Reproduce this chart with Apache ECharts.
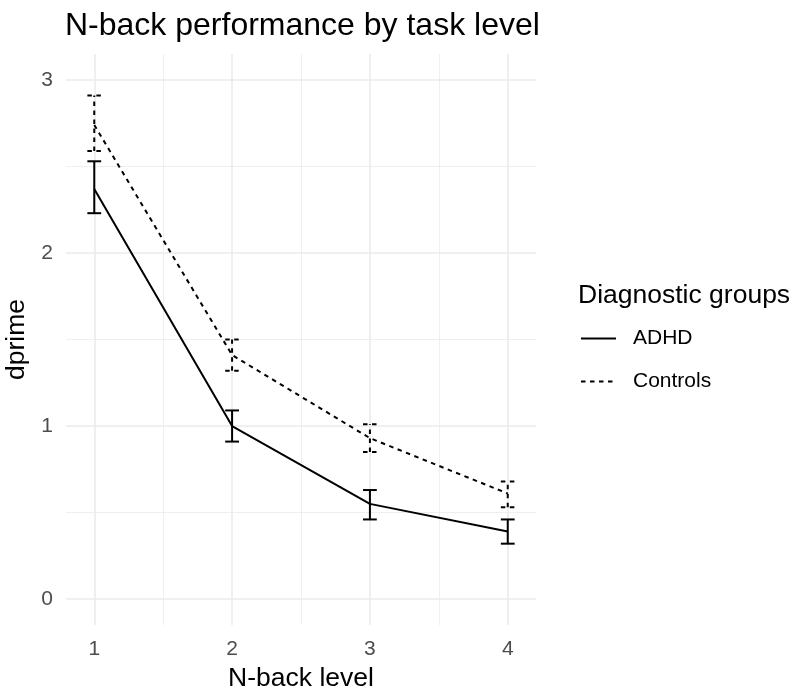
<!DOCTYPE html>
<html>
<head>
<meta charset="utf-8">
<script src="https://cdn.jsdelivr.net/npm/echarts@6/dist/echarts.min.js"></script>
<style>
  html, body { margin: 0; padding: 0; background: #fff; }
  #chart { width: 797px; height: 692px; }
</style>
</head>
<body>
<div id="chart"></div>
<script>
// N-back level on x, dprime on y
const levels = [1, 2, 3, 4]
const xMinorTicks = [1.5, 2.5, 3.5]
const yTicks = [0, 1, 2, 3]
const yMinorTicks = [0.5, 1.5, 2.5]

const adhdMean = [2.37, 1.00, 0.55, 0.39]
const adhdLow = [2.23, 0.91, 0.46, 0.32]
const adhdHigh = [2.53, 1.09, 0.63, 0.46]

const ctrlMean = [2.74, 1.41, 0.93, 0.61]
const ctrlLow = [2.59, 1.32, 0.85, 0.53]
const ctrlHigh = [2.91, 1.50, 1.01, 0.68]

const FONT = 'Liberation Sans, Arial, Helvetica, sans-serif'
const DASH = [4.5, 4.5]
const gridMajor = { color: '#EBEBEB', width: 1.6 }
const gridMinor = { color: '#EBEBEB', width: 0.8 }

const myChart = echarts.init(document.getElementById('chart'))

function pairs (xs, ys) {
  return xs.map((x, i) => [x, ys[i]])
}

function errorBars (dash) {
  return function (params, api) {
    const x = api.value(0)
    const lo = api.coord([x, api.value(1)])
    const hi = api.coord([x, api.value(2)])
    const half = api.size([0.1, 0])[0] / 2
    const style = { stroke: '#000', lineWidth: 2, lineDash: dash, fill: null }
    return {
      type: 'group',
      children: [
        { type: 'line', shape: { x1: lo[0], y1: lo[1], x2: hi[0], y2: hi[1] }, style },
        { type: 'line', shape: { x1: lo[0] - half, y1: lo[1], x2: lo[0] + half, y2: lo[1] }, style },
        { type: 'line', shape: { x1: hi[0] - half, y1: hi[1], x2: hi[0] + half, y2: hi[1] }, style }
      ]
    }
  }
}

const options = {
  animation: false,
  backgroundColor: '#fff',
  textStyle: { fontFamily: FONT },
  title: [
    {
      text: 'N-back performance by task level',
      left: 65,
      top: 10,
      padding: 0,
      textStyle: { fontFamily: FONT, fontSize: 32, fontWeight: 'normal', color: '#000' }
    },
    {
      text: 'Diagnostic groups',
      left: 578,
      top: 282,
      padding: 0,
      textStyle: { fontFamily: FONT, fontSize: 26.5, fontWeight: 'normal', color: '#000' }
    }
  ],
  legend: {
    orient: 'vertical',
    left: 580,
    top: 328,
    padding: 0,
    itemWidth: 35,
    itemHeight: 14,
    itemGap: 22,
    data: ['ADHD', 'Controls'],
    itemStyle: { opacity: 0 },
    textStyle: { fontFamily: FONT, fontSize: 21, color: '#000', padding: [0, 0, 0, 12] }
  },
  grid: {
    left: 66,
    right: 261,
    top: 54,
    bottom: 67,
    outerBoundsMode: 'none',
    containLabel: false
  },
  xAxis: [
    {
      type: 'value',
      min: 0.795,
      max: 4.205,
      name: 'N-back level',
      nameLocation: 'middle',
      nameGap: 35,
      nameTextStyle: { fontFamily: FONT, fontSize: 26.5, color: '#000' },
      axisLine: { show: false },
      axisTick: { show: false, customValues: levels },
      axisLabel: { customValues: levels, margin: 14, fontFamily: FONT, fontSize: 21, color: '#4D4D4D' },
      splitLine: { show: true, lineStyle: gridMajor }
    },
    {
      type: 'value',
      min: 0.795,
      max: 4.205,
      axisLine: { show: false },
      axisTick: { show: false, customValues: xMinorTicks },
      axisLabel: { show: false },
      splitLine: { show: true, lineStyle: gridMinor }
    }
  ],
  yAxis: [
    {
      type: 'value',
      min: -0.15,
      max: 3.15,
      name: 'dprime',
      nameLocation: 'middle',
      nameGap: 34,
      nameTextStyle: { fontFamily: FONT, fontSize: 26.5, color: '#000' },
      axisLine: { show: false },
      axisTick: { show: false, customValues: yTicks },
      axisLabel: { customValues: yTicks, margin: 13, fontFamily: FONT, fontSize: 21, color: '#4D4D4D' },
      splitLine: { show: true, lineStyle: gridMajor }
    },
    {
      type: 'value',
      min: -0.15,
      max: 3.15,
      axisLine: { show: false },
      axisTick: { show: false, customValues: yMinorTicks },
      axisLabel: { show: false },
      splitLine: { show: true, lineStyle: gridMinor }
    }
  ],
  series: [
    {
      name: 'ADHD',
      type: 'line',
      data: pairs(levels, adhdMean),
      symbol: 'none',
      lineStyle: { color: '#000', width: 2, type: 'solid' },
      itemStyle: { color: '#000' },
      z: 3
    },
    {
      name: 'Controls',
      type: 'line',
      data: pairs(levels, ctrlMean),
      symbol: 'none',
      lineStyle: { color: '#000', width: 2, type: DASH },
      itemStyle: { color: '#000' },
      z: 3
    },
    {
      name: 'ADHD',
      type: 'custom',
      renderItem: errorBars(null),
      data: levels.map((x, i) => [x, adhdLow[i], adhdHigh[i]]),
      encode: { x: 0, y: [1, 2] },
      z: 4
    },
    {
      name: 'Controls',
      type: 'custom',
      renderItem: errorBars(DASH),
      data: levels.map((x, i) => [x, ctrlLow[i], ctrlHigh[i]]),
      encode: { x: 0, y: [1, 2] },
      z: 4
    }
  ]
}

myChart.setOption(options)
</script>
</body>
</html>
